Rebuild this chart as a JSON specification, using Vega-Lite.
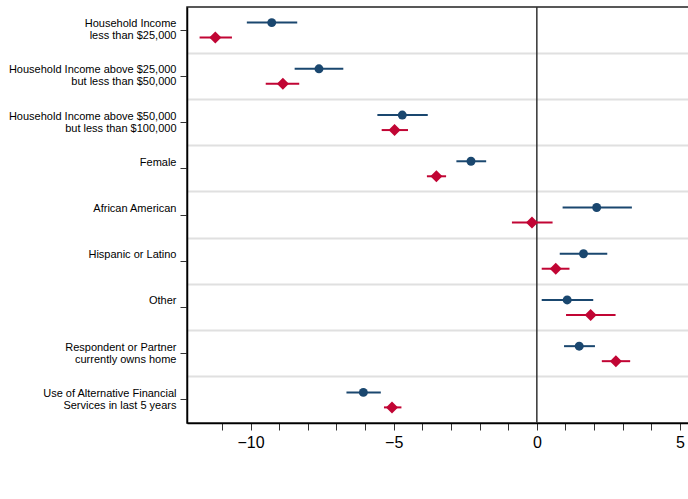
{
  "$schema": "https://vega.github.io/schema/vega-lite/v6.json",
  "width": 503,
  "height": 416,
  "autosize": {"type": "pad"},
  "padding": {"left": 8, "top": 6, "right": 0, "bottom": 0},
  "config": {
    "font": "Liberation Sans",
    "view": {"stroke": "#222", "strokeWidth": 1.5},
    "legend": {"orient": "none", "legendX": 161, "legendY": 458, "direction": "horizontal", "title": null}
  },
  "data": {
    "values": [
      {"cat": "Household Income|less than $25,000", "series": "FWB", "est": -9.26, "lo": -10.13, "hi": -8.37},
      {"cat": "Household Income|less than $25,000", "series": "PFWB", "est": -11.23, "lo": -11.78, "hi": -10.65},
      {"cat": "Household Income above $25,000|but less than $50,000", "series": "FWB", "est": -7.61, "lo": -8.46, "hi": -6.76},
      {"cat": "Household Income above $25,000|but less than $50,000", "series": "PFWB", "est": -8.87, "lo": -9.47, "hi": -8.30},
      {"cat": "Household Income above $50,000|but less than $100,000", "series": "FWB", "est": -4.70, "lo": -5.57, "hi": -3.81},
      {"cat": "Household Income above $50,000|but less than $100,000", "series": "PFWB", "est": -4.97, "lo": -5.42, "hi": -4.50},
      {"cat": "Female", "series": "FWB", "est": -2.30, "lo": -2.81, "hi": -1.77},
      {"cat": "Female", "series": "PFWB", "est": -3.51, "lo": -3.84, "hi": -3.17},
      {"cat": "African American", "series": "FWB", "est": 2.09, "lo": 0.90, "hi": 3.32},
      {"cat": "African American", "series": "PFWB", "est": -0.17, "lo": -0.87, "hi": 0.55},
      {"cat": "Hispanic or Latino", "series": "FWB", "est": 1.63, "lo": 0.80, "hi": 2.46},
      {"cat": "Hispanic or Latino", "series": "PFWB", "est": 0.66, "lo": 0.17, "hi": 1.14},
      {"cat": "Other", "series": "FWB", "est": 1.06, "lo": 0.17, "hi": 1.97},
      {"cat": "Other", "series": "PFWB", "est": 1.88, "lo": 1.02, "hi": 2.75},
      {"cat": "Respondent or Partner|currently owns home", "series": "FWB", "est": 1.48, "lo": 0.95, "hi": 2.03},
      {"cat": "Respondent or Partner|currently owns home", "series": "PFWB", "est": 2.76, "lo": 2.27, "hi": 3.26},
      {"cat": "Use of Alternative Financial|Services in last 5 years", "series": "FWB", "est": -6.06, "lo": -6.65, "hi": -5.45},
      {"cat": "Use of Alternative Financial|Services in last 5 years", "series": "PFWB", "est": -5.06, "lo": -5.34, "hi": -4.73}
    ]
  },
  "layer": [
    {
      "data": {"values": [{"v": 0}]},
      "mark": {"type": "rule", "color": "#333", "strokeWidth": 1.5},
      "encoding": {
        "x": {
          "field": "v", "type": "quantitative",
          "scale": {"domain": [-12.22, 5.35], "nice": false, "zero": false},
          "axis": {
            "orient": "bottom",
            "title": null,
            "values": [-11, -10, -9, -8, -7, -6, -5, -4, -3, -2, -1, 0, 1, 2, 3, 4, 5],
            "labelExpr": "datum.value % 5 === 0 ? datum.label : ''",
            "labelFontSize": 16,
            "labelColor": "#000",
            "labelPadding": 4,
            "labelOverlap": false,
            "labelFlush": false,
            "tickSize": 7,
            "tickColor": "#333",
            "domainColor": "#000",
            "domainWidth": 1.5,
            "grid": false
          }
        }
      }
    },
    {
      "mark": {"type": "rule", "strokeWidth": 2},
      "encoding": {
        "y": {
          "field": "cat", "type": "nominal",
          "sort": ["Household Income|less than $25,000", "Household Income above $25,000|but less than $50,000", "Household Income above $50,000|but less than $100,000", "Female", "African American", "Hispanic or Latino", "Other", "Respondent or Partner|currently owns home", "Use of Alternative Financial|Services in last 5 years"],
          "scale": {"paddingInner": 0, "paddingOuter": 0},
          "axis": {
            "orient": "left",
            "title": null,
            "grid": false,
            "labelExpr": "split(datum.label, '|')",
            "labelFontSize": 11,
            "labelLineHeight": 12,
            "labelColor": "#000",
            "labelBaseline": "top",
            "labelOffset": -12,
            "labelPadding": 4,
            "labelLimit": 300,
            "tickSize": 7,
            "tickColor": "#333",
            "domainColor": "#000",
            "domainWidth": 1.5
          }
        },
        "yOffset": {"field": "series", "type": "nominal", "scale": {"paddingInner": 0, "paddingOuter": 0.54}},
        "x": {
          "field": "lo", "type": "quantitative",
          "axis": {
            "orient": "bottom",
            "title": null,
            "values": [-11, -10, -9, -8, -7, -6, -5, -4, -3, -2, -1, 0, 1, 2, 3, 4, 5],
            "labelExpr": "datum.value % 5 === 0 ? datum.label : ''",
            "labelFontSize": 16,
            "labelColor": "#000",
            "labelPadding": 4,
            "labelOverlap": false,
            "labelFlush": false,
            "tickSize": 7,
            "tickColor": "#333",
            "domainColor": "#000",
            "domainWidth": 1.5,
            "grid": false
          }
        },
        "x2": {"field": "hi"},
        "stroke": {
          "field": "series", "type": "nominal",
          "scale": {"domain": ["FWB", "PFWB"], "range": ["#1a476f", "#c10534"]},
          "legend": null
        }
      }
    },
    {
      "mark": {"type": "point", "filled": true, "opacity": 1},
      "encoding": {
        "y": {
          "field": "cat", "type": "nominal",
          "sort": ["Household Income|less than $25,000", "Household Income above $25,000|but less than $50,000", "Household Income above $50,000|but less than $100,000", "Female", "African American", "Hispanic or Latino", "Other", "Respondent or Partner|currently owns home", "Use of Alternative Financial|Services in last 5 years"],
          "axis": {
            "orient": "right",
            "title": null,
            "grid": true,
            "gridColor": "#e0e0e0",
            "gridWidth": 2,
            "bandPosition": 0,
            "values": ["Household Income above $25,000|but less than $50,000", "Household Income above $50,000|but less than $100,000", "Female", "African American", "Hispanic or Latino", "Other", "Respondent or Partner|currently owns home", "Use of Alternative Financial|Services in last 5 years"],
            "labels": false,
            "ticks": false,
            "domain": false
          }
        },
        "yOffset": {"field": "series", "type": "nominal"},
        "x": {
          "field": "est", "type": "quantitative",
          "axis": {
            "orient": "bottom",
            "title": null,
            "values": [-11, -10, -9, -8, -7, -6, -5, -4, -3, -2, -1, 0, 1, 2, 3, 4, 5],
            "labelExpr": "datum.value % 5 === 0 ? datum.label : ''",
            "labelFontSize": 16,
            "labelColor": "#000",
            "labelPadding": 4,
            "labelOverlap": false,
            "labelFlush": false,
            "tickSize": 7,
            "tickColor": "#333",
            "domainColor": "#000",
            "domainWidth": 1.5,
            "grid": false
          }
        },
        "color": {
          "field": "series", "type": "nominal",
          "scale": {"domain": ["FWB", "PFWB"], "range": ["#1a476f", "#c10534"]},
          "legend": {"title": null, "orient": "none", "legendX": 161, "legendY": 458, "direction": "horizontal", "strokeColor": "#000", "padding": 9, "labelFontSize": 16, "labelColor": "#000", "labelOffset": 10, "columnPadding": 32}
        },
        "shape": {
          "field": "series", "type": "nominal",
          "scale": {"domain": ["FWB", "PFWB"], "range": ["circle", "diamond"]},
          "legend": {"title": null, "orient": "none", "legendX": 161, "legendY": 458, "direction": "horizontal", "strokeColor": "#000", "padding": 9, "labelFontSize": 16, "labelColor": "#000", "labelOffset": 10, "columnPadding": 32}
        },
        "size": {
          "field": "series", "type": "nominal",
          "scale": {"domain": ["FWB", "PFWB"], "range": [80, 144]},
          "legend": {"title": null, "orient": "none", "legendX": 161, "legendY": 458, "direction": "horizontal", "strokeColor": "#000", "padding": 9, "labelFontSize": 16, "labelColor": "#000", "labelOffset": 10, "columnPadding": 32}
        }
      }
    }
  ],
  "resolve": {"axis": {"y": "independent"}}
}
